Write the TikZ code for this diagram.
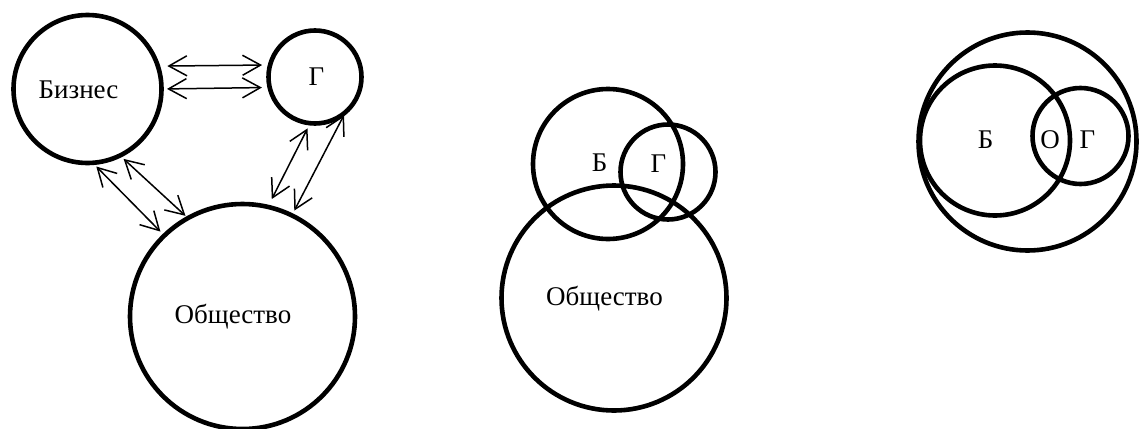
\documentclass[tikz,border=0pt]{standalone}
\usepackage{fontspec}
\setmainfont{Liberation Serif}
\usetikzlibrary{arrows.meta}
\begin{document}
\begin{tikzpicture}[
      x=0.5pt,y=-0.5pt,
      sphere/.style={
         circle,
         draw,
         line width=2.3pt,
         inner sep=0pt,
         outer sep=0pt,
         minimum size=#1
      },
      caption/.style={
         anchor=base,
         inner sep=0pt,
         font=\fontsize{13.5}{16}\selectfont
      },
      link/.style={
         {Straight Barb[length=9pt,width=10pt]}-{Straight Barb[length=9pt,width=10pt]},
         line width=0.75pt
      }
    ]
    \useasboundingbox (0,0) rectangle (1139,428);
    % first picture
    \node (b1) [sphere=74pt] at (87.5,89) {};
    \node (g1) [sphere=46.5pt] at (315,77) {};
    \node (s1) [sphere=112.5pt] at (242.5,316.5) {};
    \node (tb1) [caption] at (78.5,98) {Бизнес};
    \node (tg1) [caption] at (316.5,85) {Г};
    \node (ts1) [caption] at (233,323) {Общество};
    \draw[link,shorten <=4.75pt,shorten >=4pt] (b1.18.9) -- (g1.165);
    \draw[link,shorten <=2.75pt,shorten >=3.9pt] (b1.0.8) -- (g1.193.7);
    \draw[link,shorten <=2.6pt,shorten >=2.8pt] (b1.-86.7) -- (s1.134.3);
    \draw[link,shorten <=2.5pt,shorten >=1.7pt] (b1.-64.1) -- (s1.119.8);
    \draw[link,shorten <=2.9pt,shorten >=4.4pt] (g1.-96.6) -- (s1.77.9);
    \draw[link,shorten <=1.6pt,shorten >=2.7pt] (g1.-49.9) -- (s1.64.6);
    % second picture
    \node (b2) [sphere=75pt] at (608,164) {};
    \node (g2) [sphere=47.5pt] at (668,172) {};
    \node (s2) [sphere=112.5pt] at (614,298) {};
    \node (tb2) [caption] at (599.5,171.5) {Б};
    \node (tg2) [caption] at (658.5,172) {Г};
    \node (ts2) [caption] at (604.5,305) {Общество};
    % third picture
    \node (s3) [sphere=109pt] at (1027.5,141.5) {};
    \node (b3) [sphere=75pt] at (995,140.5) {};
    \node (g3) [sphere=48pt] at (1080.5,136) {};
    \node (tb3) [caption] at (985.5,148) {Б};
    \node (to3) [caption] at (1050,148) {О};
    \node (tg3) [caption] at (1087.5,148) {Г};
\end{tikzpicture}
\end{document}
